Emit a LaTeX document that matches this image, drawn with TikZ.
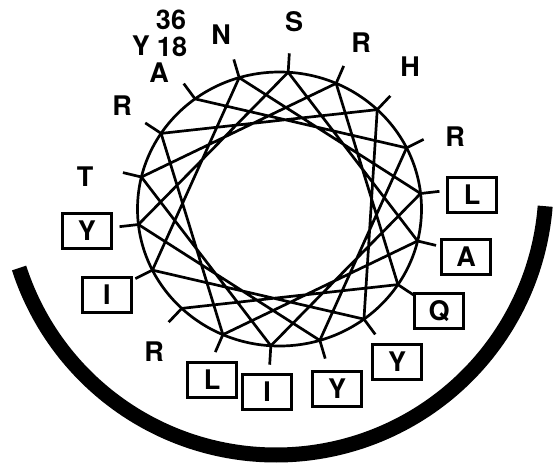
\documentclass[tikz,border=0pt]{standalone}
\usepackage{fontspec}
\setmainfont{TeX Gyre Heros}
\begin{document}
\begin{tikzpicture}[x=1pt,y=-1pt,
  wheel/.style={line width=2.7pt,line join=round,line cap=round},
  lab/.style={font=\fontsize{27}{27}\selectfont\bfseries,inner sep=0pt,anchor=center},
  boxlab/.style={lab,draw,line width=2.4pt,minimum width=49pt,minimum height=35pt}]
\useasboundingbox (0,0) rectangle (553,467);
% vertices and tick ends
\foreach \m in {0,...,17}{
  \pgfmathsetmacro{\t}{6.5+20*\m}
  \coordinate (v\m) at ({279.5+142*cos(\t)},{209-137*sin(\t)});
  \coordinate (t\m) at ({279.5+161*cos(\t)},{209-156*sin(\t)});
}
% circle
\draw[wheel] (279.5,209) ellipse [x radius=142pt, y radius=137pt];
% ticks
\foreach \m in {0,...,17}{\draw[wheel,line cap=butt] (v\m) -- (t\m);}
% chords
\draw[wheel] (v11) -- (v16) -- (v3) -- (v8) -- (v13) -- (v0) -- (v5) -- (v10) -- (v15)
  -- (v2) -- (v7) -- (v12) -- (v17) -- (v4) -- (v9) -- (v14) -- (v1) -- (v6);
% labels
\node[lab] (n36) at (171,20) {36};
\node[lab] (n18) at (172,47) {18};
\node[lab] (nY18) at (141,46) {Y};
\node[lab] (nA) at (159,73) {A};
\node[lab] (nN) at (221,35) {N};
\node[lab] (nS) at (294,22) {S};
\node[lab] (nR1) at (361,43) {R};
\node[lab] (nH) at (410,67) {H};
\node[lab] (nR2) at (455,137) {R};
\node[boxlab] (bL1) at (472,195) {L};
\node[boxlab] (bA) at (466,257) {A};
\node[boxlab] (bQ) at (439,311) {Q};
\node[boxlab] (bY1) at (397,362) {Y};
\node[boxlab] (bY2) at (337,389) {Y};
\node[boxlab] (bI1) at (267,392) {I};
\node[boxlab] (bL2) at (212,380) {L};
\node[lab] (nR3) at (154,352) {R};
\node[boxlab] (bI2) at (107,295) {I};
\node[boxlab] (bY3) at (87,231) {Y};
\node[lab] (nT) at (85,177) {T};
\node[lab] (nR4) at (122,106) {R};
% thick arc
\draw[line width=15pt,line cap=butt] plot[domain=4.5:162.1,samples=120,smooth]
  ({276+270*cos(\x)},{185+270*sin(\x)});
\end{tikzpicture}
\end{document}
